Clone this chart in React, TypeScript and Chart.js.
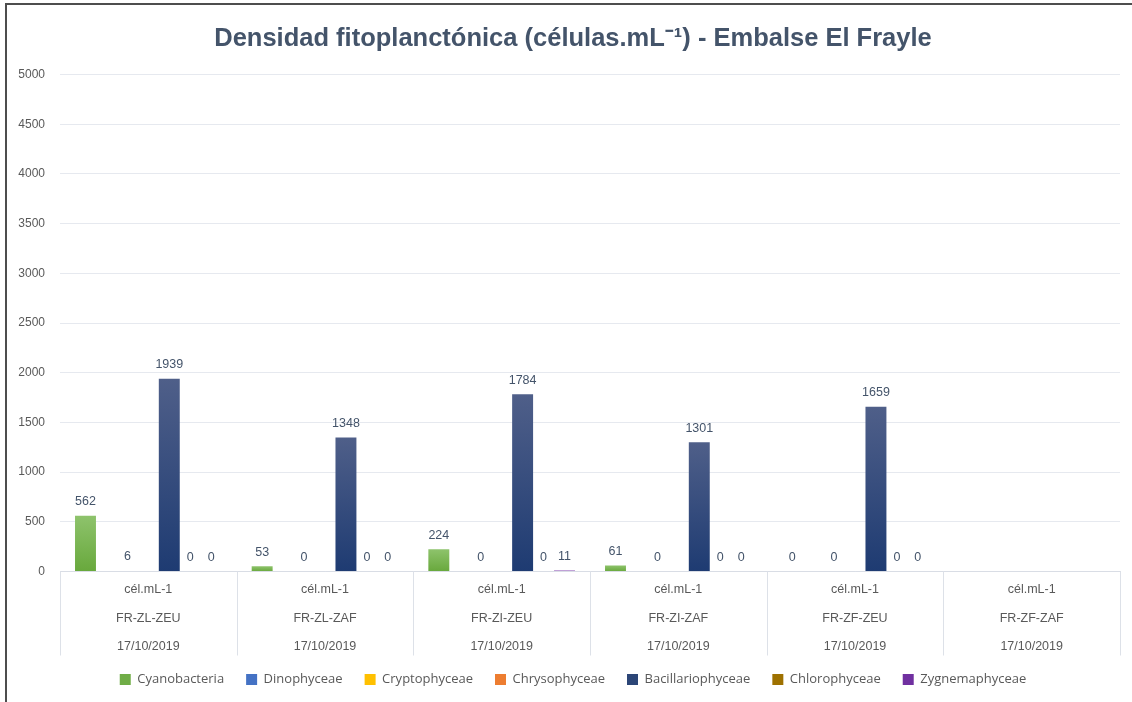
import React, { useEffect, useRef } from "react";
import { Chart, registerables } from "chart.js";

Chart.register(...registerables);

const titleText = "Densidad fitoplanctónica (células.mL⁻¹) - Embalse El Frayle";
const unitLabel = "cél.mL-1";
const sites = ["FR-ZL-ZEU", "FR-ZL-ZAF", "FR-ZI-ZEU", "FR-ZI-ZAF", "FR-ZF-ZEU", "FR-ZF-ZAF"];
const dates = ["17/10/2019", "17/10/2019", "17/10/2019", "17/10/2019", "17/10/2019", "17/10/2019"];

const seriesNames = [
  "Cyanobacteria",
  "Dinophyceae",
  "Cryptophyceae",
  "Chrysophyceae",
  "Bacillariophyceae",
  "Chlorophyceae",
  "Zygnemaphyceae",
];

const cyanobacteria = [562, 53, 224, 61, 0, null];
const dinophyceae = [null, null, null, null, null, null];
const cryptophyceae = [6, 0, 0, 0, 0, null];
const chrysophyceae = [null, null, null, null, null, null];
const bacillariophyceae = [1939, 1348, 1784, 1301, 1659, null];
const chlorophyceae = [0, 0, 0, 0, 0, null];
const zygnemaphyceae = [0, 0, 11, 0, 0, null];

const yMax = 5000;
const yStep = 500;

const seriesValues = [
  cyanobacteria,
  dinophyceae,
  cryptophyceae,
  chrysophyceae,
  bacillariophyceae,
  chlorophyceae,
  zygnemaphyceae,
];

// [top colour, bottom colour, legend colour]
const seriesColors: [string, string, string][] = [
  ["#8ec36c", "#68a83c", "#70ad47"],
  ["#5b84cc", "#3e69b8", "#4472c4"],
  ["#ffcb33", "#f5b800", "#ffc000"],
  ["#f08f4c", "#e5732a", "#ed7d31"],
  ["#4f5f89", "#1e3b72", "#2c4677"],
  ["#ad8420", "#946a00", "#9e7100"],
  ["#8446b0", "#6a2c98", "#7030a0"],
];

const textGrey = "#595959";
const separatorLength = 84;

const framePlugin = {
  id: "frame",
  beforeDraw(chart: any) {
    const { ctx, width, height } = chart;
    ctx.save();
    ctx.fillStyle = "#ffffff";
    ctx.fillRect(0, 0, width, height);
    ctx.strokeStyle = "#4d4d4d";
    ctx.lineWidth = 2;
    ctx.beginPath();
    ctx.moveTo(6, height);
    ctx.lineTo(6, 4);
    ctx.lineTo(width, 4);
    ctx.stroke();
    ctx.restore();
  },
};

const separatorPlugin = {
  id: "categorySeparators",
  afterDraw(chart: any) {
    const { ctx } = chart;
    const xs = chart.scales.x;
    const n = chart.data.labels.length;
    const step = (xs.right - xs.left) / n;
    ctx.save();
    ctx.strokeStyle = "#dde1e8";
    ctx.lineWidth = 1;
    ctx.beginPath();
    for (let i = 0; i <= n; i++) {
      const x = Math.round(xs.left + i * step) + 0.5;
      ctx.moveTo(x, xs.top);
      ctx.lineTo(x, xs.top + separatorLength);
    }
    ctx.stroke();
    ctx.restore();
  },
};

const valueLabelPlugin = {
  id: "valueLabels",
  afterDatasetsDraw(chart: any) {
    const { ctx } = chart;
    ctx.save();
    ctx.font = "12.5px 'Liberation Sans', Arial, sans-serif";
    ctx.fillStyle = "#44546a";
    ctx.textAlign = "center";
    ctx.textBaseline = "middle";
    chart.data.datasets.forEach((ds: any, di: number) => {
      const meta = chart.getDatasetMeta(di);
      meta.data.forEach((el: any, i: number) => {
        const v = ds.data[i];
        if (v === null || v === undefined) return;
        ctx.fillText(String(v), el.x, el.y - 14);
      });
    });
    ctx.restore();
  },
};

function gradientFor(idx: number) {
  return (c: any) => {
    const chart = c.chart;
    const { ctx, chartArea, scales } = chart;
    const [top, bottom, solid] = seriesColors[idx];
    if (!chartArea || c.raw === null || c.raw === undefined) return solid;
    const y0 = scales.y.getPixelForValue(0);
    let y1 = scales.y.getPixelForValue(c.raw);
    if (Math.abs(y0 - y1) < 1) y1 = y0 - 1;
    const g = ctx.createLinearGradient(0, y1, 0, y0);
    g.addColorStop(0, top);
    g.addColorStop(1, bottom);
    return g;
  };
}

export default function App() {
  const ref = useRef<HTMLCanvasElement | null>(null);

  useEffect(() => {
    if (!ref.current) return;
    const labels = sites.map((s, i) => [unitLabel, s, dates[i]]);
    const chart = new Chart(ref.current, {
      type: "bar",
      data: {
        labels,
        datasets: seriesNames.map((name, i) => ({
          label: name,
          data: seriesValues[i],
          backgroundColor: gradientFor(i),
          borderWidth: 0,
          barPercentage: 1,
          categoryPercentage: 0.83,
        })),
      },
      options: {
        animation: false,
        responsive: true,
        maintainAspectRatio: false,
        layout: { padding: { left: 6, right: -8, top: 0, bottom: 6 } },
        plugins: {
          title: {
            display: true,
            text: titleText,
            color: "#44546a",
            font: { family: "'Liberation Sans Narrow', 'Arial Narrow', 'Liberation Sans', sans-serif", size: 25.5, weight: "bold" },
            padding: { top: 24, bottom: 20 },
          },
          legend: {
            position: "bottom",
            labels: {
              boxWidth: 11,
              boxHeight: 11,
              color: textGrey,
              font: { family: "'Open Sans', sans-serif", size: 13 },
              padding: 22,
              generateLabels: (ch: any) =>
                ch.data.datasets.map((ds: any, i: number) => ({
                  text: ds.label,
                  fillStyle: seriesColors[i][2],
                  strokeStyle: seriesColors[i][2],
                  lineWidth: 0,
                  hidden: false,
                  datasetIndex: i,
                  fontColor: textGrey,
                })),
            },
          },
          tooltip: { enabled: false },
        },
        scales: {
          x: {
            afterFit: (scale: any) => {
              scale.height = scale.height - 14;
            },
            grid: {
              offset: true,
              drawOnChartArea: false,
              drawTicks: false,
            },
            border: { display: true, color: "#d9dde5", width: 1 },
            ticks: {
              color: textGrey,
              font: { family: "'Liberation Sans', Arial, sans-serif", size: 12.5, lineHeight: 2.28 },
              padding: 4,
              maxRotation: 0,
              autoSkip: false,
            },
          },
          y: {
            min: 0,
            max: yMax,
            afterFit: (scale: any) => {
              scale.width = 54;
            },
            ticks: {
              stepSize: yStep,
              color: textGrey,
              font: { family: "'Liberation Sans', Arial, sans-serif", size: 12 },
              padding: 15,
              callback: (v: any) => String(v),
            },
            grid: { color: "#e6e9ef", drawTicks: false },
            border: { display: false },
          },
          ySpace: {
            position: "right",
            min: 0,
            max: yMax,
            afterFit: (scale: any) => {
              scale.width = 20;
            },
            ticks: { display: false },
            grid: { display: false, drawTicks: false },
            border: { display: false },
          },
        },
      },
      plugins: [framePlugin, separatorPlugin, valueLabelPlugin],
    } as any);
    return () => chart.destroy();
  }, []);

  return (
    <div style={{ position: "fixed", left: 0, top: 0, width: 1132, height: 702, background: "#fff" }}>
      <canvas ref={ref} />
    </div>
  );
}
